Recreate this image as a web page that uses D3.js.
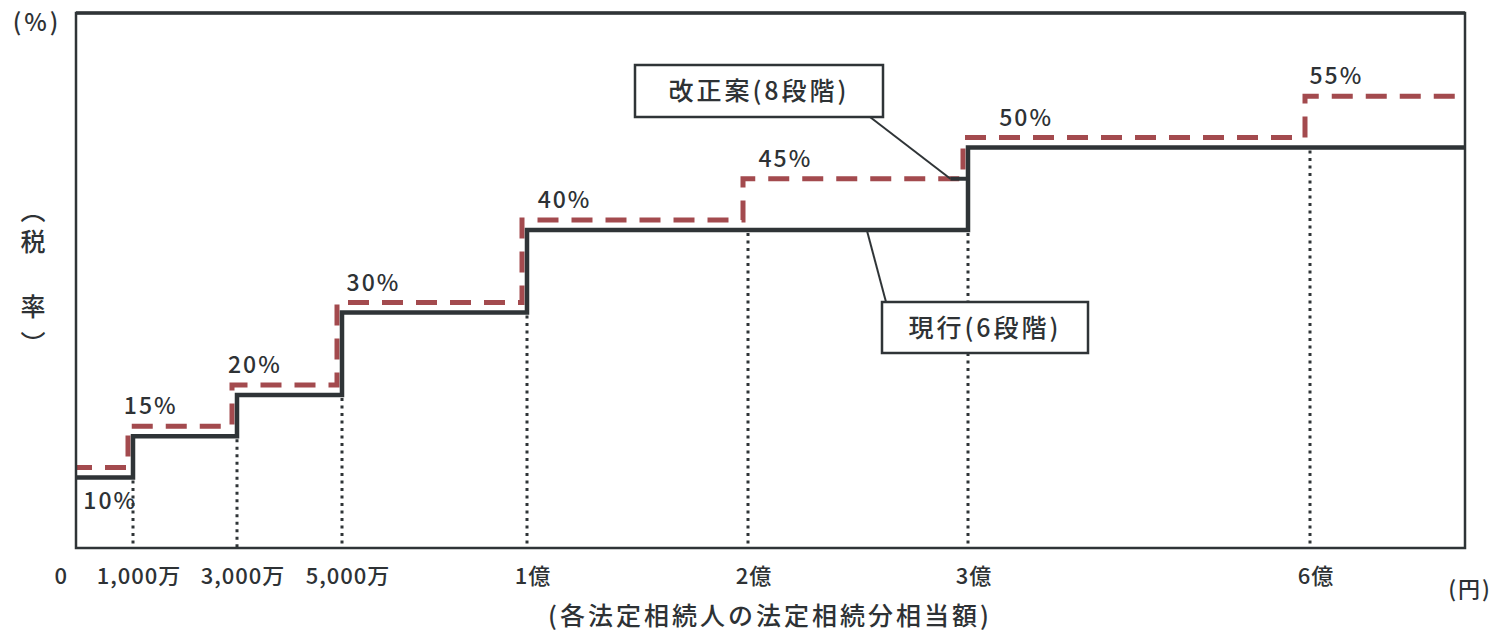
<!DOCTYPE html>
<html><head><meta charset="utf-8">
<script src="https://cdn.jsdelivr.net/npm/d3@7"></script>
<style>
body{margin:0;background:#fff;}
text{font-family:"Noto Sans CJK JP","Noto Sans",sans-serif;fill:#2e3235;font-weight:500;}
</style>
</head><body>
<svg id="c" width="1501" height="632"></svg>
<script>
// ---- data (amounts in 万円) ----
const breaks = [0, 1000, 3000, 5000, 10000, 20000, 30000, 60000];
const xEnd = 70000;
const tickLabels = ["0", "1,000万", "3,000万", "5,000万", "1億", "2億", "3億", "6億"];
const currentRates = [10, 15, 20, 30, 40, 40, 50, 50];
const proposedRates = [10, 15, 20, 30, 40, 45, 50, 55];
const rateLabels = ["10%", "15%", "20%", "30%", "40%", "45%", "50%", "55%"];
const seriesNames = ["現行(6段階)", "改正案(8段階)"];
const seriesAnchors = [[25400, 40], [29200, 45]];
const yTitle = "(%)";
const yTitleVertical = ["（", "税", "率", "）"];
const xTitle = "(各法定相続人の法定相続分相当額)";
const xUnit = "(円)";

// ---- layout ----
const svg = d3.select("#c");
const L = 76, R = 1465, T = 13, B = 548;
const dark = "#2f3437", red = "#a34a4e";
const dOff = {x: -5, y: -10};

const x = d3.scaleLinear()
  .domain([...breaks, xEnd])
  .range([L, 133, 237, 342, 527, 748, 968, 1310, R]);
const y = d3.scaleLinear().domain([0, 60]).range([560, 65]);

svg.append("defs").append("clipPath").attr("id", "plot")
  .append("rect").attr("x", L).attr("y", T).attr("width", R - L).attr("height", B - T);

// dotted verticals
svg.append("g").selectAll("line").data(breaks.slice(1)).join("line")
  .attr("x1", d => x(d)).attr("x2", d => x(d))
  .attr("y1", (d, i) => y(currentRates[i]) + 3).attr("y2", B)
  .attr("stroke", dark).attr("stroke-width", 3).attr("stroke-dasharray", "3,4.5");

const stepLine = d3.line().x(d => x(d[0])).y(d => y(d[1])).curve(d3.curveStepAfter);
const curPts = breaks.map((b, i) => [b, currentRates[i]]).concat([[xEnd, currentRates[currentRates.length - 1]]]);
const propPts = breaks.map((b, i) => [b, proposedRates[i]]).concat([[xEnd, proposedRates[proposedRates.length - 1]]]);

// proposed (dashed)
svg.append("g").attr("clip-path", "url(#plot)")
  .append("path").datum(propPts)
  .attr("d", stepLine)
  .attr("transform", `translate(${dOff.x},${dOff.y})`)
  .attr("fill", "none").attr("stroke", red).attr("stroke-width", 5)
  .attr("stroke-dasharray", "21,13");

// current (solid)
svg.append("path").datum(curPts)
  .attr("d", stepLine)
  .attr("fill", "none").attr("stroke", dark).attr("stroke-width", 4.5);

// frame
svg.append("rect").attr("x", L).attr("y", T).attr("width", R - L).attr("height", B - T)
  .attr("fill", "none").attr("stroke", dark).attr("stroke-width", 2.5);
svg.append("line").attr("x1", L).attr("x2", R).attr("y1", T).attr("y2", T)
  .attr("stroke", dark).attr("stroke-width", 3.5);

// rate labels
svg.selectAll("text.rate").data(proposedRates.slice(1)).join("text")
  .attr("class", "rate")
  .attr("x", (d, i) => x(breaks[i + 1]) + 0.17 * (x(i + 2 < breaks.length ? breaks[i + 2] : xEnd) - x(breaks[i + 1])))
  .attr("y", d => y(d) + dOff.y - 12)
  .attr("text-anchor", "middle").attr("font-size", 23).attr("letter-spacing", 2)
  .text((d, i) => rateLabels[i + 1]);
svg.append("text")
  .attr("x", x(0) + 0.6 * (x(breaks[1]) - x(0)))
  .attr("y", y(currentRates[0]) + 31)
  .attr("text-anchor", "middle").attr("font-size", 23).attr("letter-spacing", 2)
  .text(rateLabels[0]);

// x tick labels
svg.selectAll("text.tick").data(breaks).join("text")
  .attr("class", "tick")
  .attr("x", (d, i) => i === 0 ? x(d) - 8 : x(d) + 6)
  .attr("y", 584)
  .attr("text-anchor", (d, i) => i === 0 ? "end" : "middle")
  .attr("font-size", 22).attr("letter-spacing", 1)
  .text((d, i) => tickLabels[i]);

svg.append("text").attr("x", 1470).attr("y", 597).attr("text-anchor", "middle")
  .attr("font-size", 22).attr("letter-spacing", 2).text(xUnit);
svg.append("text").attr("x", 770).attr("y", 625).attr("text-anchor", "middle")
  .attr("font-size", 25).attr("letter-spacing", 3).text(xTitle);

// y titles
svg.append("text").attr("x", 37).attr("y", 31).attr("text-anchor", "middle")
  .attr("font-size", 24).attr("letter-spacing", 3).text(yTitle);
const vY = [210, 241, 306, 343];
svg.selectAll("text.vt").data(yTitleVertical).join("text")
  .attr("class", "vt")
  .attr("x", 33).attr("y", (d, i) => vY[i])
  .style("writing-mode", "vertical-rl")
  .attr("text-anchor", "middle")
  .attr("font-size", 25).text(d => d);

// annotation boxes
const boxes = [
  {name: seriesNames[1], anchor: seriesAnchors[1], bx: 635, by: 65, bw: 248, bh: 52, lx: 870, ly: 117, tick: true, off: dOff},
  {name: seriesNames[0], anchor: seriesAnchors[0], bx: 882, by: 302, bw: 206, bh: 51, lx: 886, ly: 302, tick: false, off: {x: 0, y: 0}}
];
boxes.forEach(b => {
  const ax = x(b.anchor[0]), ay = y(b.anchor[1]) + b.off.y;
  svg.append("line").attr("x1", b.lx).attr("y1", b.ly).attr("x2", ax).attr("y2", ay)
    .attr("stroke", dark).attr("stroke-width", 2);
  if (b.tick) {
    svg.append("line").attr("x1", ax).attr("x2", ax + 18).attr("y1", ay).attr("y2", ay)
      .attr("stroke", dark).attr("stroke-width", 4);
  }
  svg.append("rect").attr("x", b.bx).attr("y", b.by).attr("width", b.bw).attr("height", b.bh)
    .attr("fill", "#fff").attr("stroke", dark).attr("stroke-width", 2.5);
  svg.append("text").attr("x", b.bx + b.bw / 2).attr("y", b.by + b.bh / 2 + 9)
    .attr("text-anchor", "middle").attr("font-size", 25).attr("letter-spacing", 3)
    .text(b.name);
});
</script>
</body></html>
